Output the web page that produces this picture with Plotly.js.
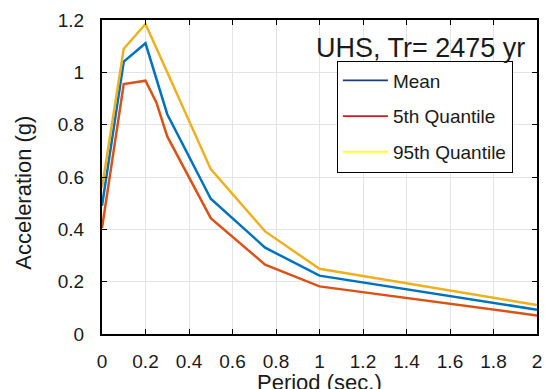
<!DOCTYPE html>
<html>
<head>
<meta charset="utf-8">
<script src="https://cdn.plot.ly/plotly-3.0.1.min.js"></script>
<style>html,body{margin:0;padding:0;background:#fff;}#chart{width:546px;height:389px;}</style>
</head>
<body>
<div id="chart"></div>
<script>
// Data
const period = [0, 0.1, 0.2, 0.25, 0.3, 0.5, 0.75, 1.0, 2.0];
const meanUHS = [0.49, 1.041, 1.111, 0.975, 0.84, 0.517, 0.330, 0.223, 0.093];
const q05UHS = [0.405, 0.955, 0.968, 0.885, 0.755, 0.443, 0.265, 0.182, 0.071];
const q95UHS = [0.56, 1.090, 1.185, 1.090, 1.0, 0.630, 0.392, 0.249, 0.111];
const seriesNames = ['Mean', '5th Quantile', '95th Quantile'];
const xTicks = [0, 0.2, 0.4, 0.6, 0.8, 1, 1.2, 1.4, 1.6, 1.8, 2];
const yTicks = [0, 0.2, 0.4, 0.6, 0.8, 1, 1.2];

const FONT = 'Liberation Sans, Arial, Helvetica, sans-serif';
const lineColors = ['#0072BD', '#D95319', '#EDB120'];
const legendColors = ['#1F3D6E', '#CC1F1F', '#FFFF33'];
const seriesData = [meanUHS, q05UHS, q95UHS];

const traces = [];
seriesData.forEach((ys, i) => {
  traces.push({
    x: period, y: ys, type: 'scatter', mode: 'lines',
    line: {color: lineColors[i], width: 2.5},
    showlegend: false, hoverinfo: 'skip'
  });
});
seriesNames.forEach((nm, i) => {
  traces.push({
    x: [null], y: [null], type: 'scatter', mode: 'lines', name: nm,
    legendgroup: 'g' + i,
    line: {color: legendColors[i], width: 1.8},
    showlegend: true
  });
});

const axisCommon = {
  showgrid: true, gridcolor: '#e4e4e4', gridwidth: 1,
  showline: true, linecolor: '#000', linewidth: 2, mirror: 'ticks',
  ticks: 'inside', ticklen: 5, tickwidth: 1, tickcolor: '#000',
  zeroline: false, tickfont: {family: FONT, size: 19, color: '#1a1a1a'},
  fixedrange: true
};

const layout = {
  width: 546, height: 389,
  margin: {l: 102, r: 9, t: 20, b: 55, pad: 0},
  paper_bgcolor: '#fff', plot_bgcolor: '#fff',
  font: {family: FONT, color: '#1a1a1a'},
  xaxis: Object.assign({}, axisCommon, {
    range: [0, 2], tickvals: xTicks, ticklabelstandoff: 9
  }),
  yaxis: Object.assign({}, axisCommon, {
    range: [0, 1.2], tickvals: yTicks, ticklabelstandoff: 12
  }),
  legend: {
    x: 0.54, y: 0.871, xanchor: 'left', yanchor: 'top',
    bgcolor: '#fff', bordercolor: '#000', borderwidth: 1,
    font: {family: FONT, size: 19, color: '#1a1a1a'},
    tracegroupgap: 8, itemwidth: 45,
    entrywidth: 150
  },
  annotations: [
    {text: 'UHS, Tr= 2475 yr', xref: 'paper', yref: 'paper', x: 0.978, y: 0.91,
     xanchor: 'right', yanchor: 'middle', showarrow: false,
     font: {family: FONT, size: 27, color: '#1a1a1a'}},
    {text: 'Period (sec.)', xref: 'paper', yref: 'paper', x: 0.5, y: -0.108,
     xanchor: 'center', yanchor: 'top', showarrow: false,
     font: {family: FONT, size: 22, color: '#1a1a1a'}},
    {text: 'Acceleration (g)', xref: 'paper', yref: 'paper', x: -0.1824, y: 0.449,
     xanchor: 'center', yanchor: 'middle', showarrow: false, textangle: -90,
     font: {family: FONT, size: 22, color: '#1a1a1a'}}
  ]
};

Plotly.newPlot('chart', traces, layout, {staticPlot: true, displayModeBar: false});
</script>
</body>
</html>
